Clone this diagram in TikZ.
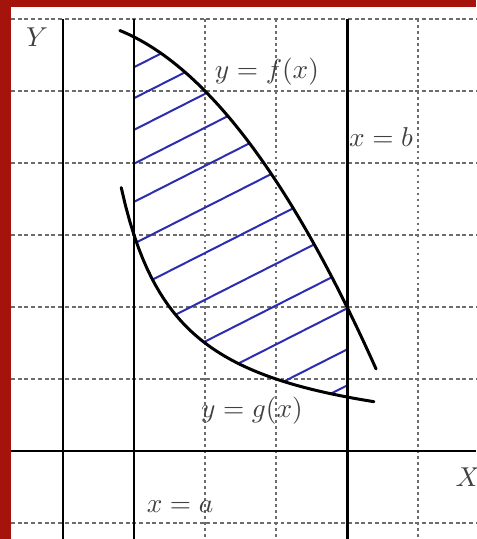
\documentclass[tikz,border=0pt]{standalone}
\usepackage{amsmath,amssymb}
\usepackage{tikz}
\usepackage{xcolor}
\definecolor{framered}{RGB}{165,20,12}
\definecolor{hatchblue}{RGB}{45,45,175}

\begin{document}
\begin{tikzpicture}[x=1cm,y=1.01408cm,font=\fontsize{10.5}{12}\selectfont,line cap=round,
  gridline/.style={gray!85!black,line width=0.8pt,line cap=butt,dash pattern=on 1.6pt off 1.1pt},
  gridcol/.style={gray!85!black,line width=0.8pt,line cap=butt,dash pattern=on 1.1pt off 1.3pt},
  axisline/.style={black,line width=1.2pt,line cap=butt},
  curveline/.style={black,line width=1.2pt},
  hatchline/.style={hatchblue,line width=0.8pt},
  lbl/.style={text=black!75,inner sep=0pt}]
\useasboundingbox (-0.8873,-1.2222) rectangle (5.8169,6.2639);
\fill[white] (-0.8873,-1.2222) rectangle (5.8169,6.2639);
% dotted grid
\draw[gridline] (-0.7324,6) -- (5.8169,6);
\draw[gridline] (-0.7324,5) -- (5.8169,5);
\draw[gridline] (-0.7324,4) -- (5.8169,4);
\draw[gridline] (-0.7324,3) -- (5.8169,3);
\draw[gridline] (-0.7324,2) -- (5.8169,2);
\draw[gridline] (-0.7324,1) -- (5.8169,1);
\draw[gridline] (-0.7324,-1) -- (5.8169,-1);
\draw[gridcol] (2,6) -- (2,-1.2222);
\draw[gridcol] (3,6) -- (3,-1.2222);
\draw[gridcol] (5,6) -- (5,-1.2222);
% hatching between the curves
\begin{scope}
\clip (1,3) -- plot[domain=1:4,samples=40] (\x,{6-\x*\x/4}) -- plot[domain=4:1,samples=40] (\x,{3/\x}) -- cycle;
\draw[hatchline] (0.8,5.23) -- (4.2,6.93);
\draw[hatchline] (0.8,4.80) -- (4.2,6.50);
\draw[hatchline] (0.8,4.36) -- (4.2,6.06);
\draw[hatchline] (0.8,3.89) -- (4.2,5.59);
\draw[hatchline] (0.8,3.36) -- (4.2,5.06);
\draw[hatchline] (0.8,2.78) -- (4.2,4.48);
\draw[hatchline] (0.8,2.15) -- (4.2,3.85);
\draw[hatchline] (0.8,1.50) -- (4.2,3.20);
\draw[hatchline] (0.8,0.92) -- (4.2,2.62);
\draw[hatchline] (0.8,0.38) -- (4.2,2.08);
\draw[hatchline] (0.8,-0.19) -- (4.2,1.51);
\draw[hatchline] (0.8,-0.69) -- (4.2,1.01);
\end{scope}
% axes and bounds
\draw[axisline] (-0.7324,0) -- (5.8169,0);
\draw[axisline] (0,6) -- (0,-1.2222);
\draw[axisline] (1,6) -- (1,-1.2222);
\draw[axisline] (4,6) -- (4,-1.2222);
% the two curves
\draw[curveline] plot[domain=0.8:4.41,samples=60] (\x,{6-\x*\x/4});
\draw[curveline] plot[domain=0.82:4.38,samples=60] (\x,{3/\x});
% labels
\node[lbl] (labelY) at (-0.366,5.75) {$Y$};
\node[lbl] (labelX) at (5.704,-0.361) {$X$};
\node[lbl] (labelf) at (2.873,5.264) {$y=f(x)$};
\node[lbl] (labelb) at (4.479,4.361) {$x=b$};
\node[lbl] (labelg) at (2.662,0.556) {$y=g(x)$};
\node[lbl] (labela) at (1.648,-0.778) {$x=a$};
% red frame
\fill[framered] (-0.8873,-1.2222) rectangle (-0.7324,6.2639);
\fill[framered] (-0.8873,6.1667) rectangle (5.8169,6.2639);
\end{tikzpicture}
\end{document}
